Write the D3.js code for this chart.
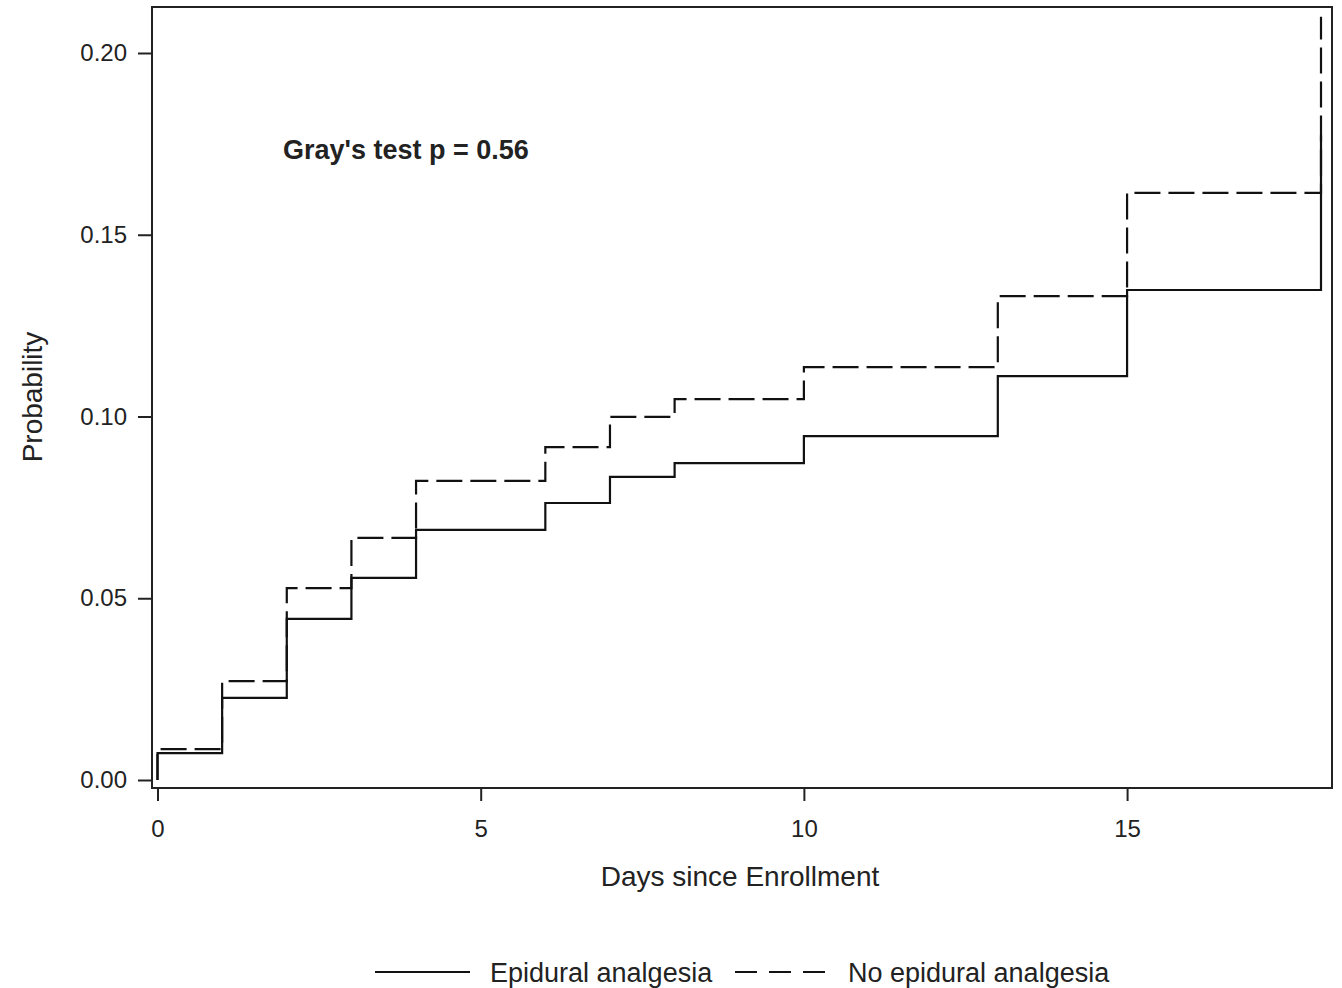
<!DOCTYPE html>
<html lang="en">
<head>
<meta charset="UTF-8">
<title>Cumulative incidence by epidural analgesia</title>
<script src="https://d3js.org/d3.v7.min.js"></script>
<style>
  body { margin: 0; background: #fff; }
  text { font-family: "Liberation Sans", Arial, sans-serif; fill: #222; }
  .step { fill: none; stroke: #111; stroke-width: 2.2px; }
</style>
</head>
<body>
<svg id="chart" width="1342" height="988"></svg>
<script>
    // step times (days) and cumulative probabilities
    const days = [0, 1, 2, 3, 4, 6, 7, 8, 10, 13, 15, 18];
    const epidural   = [0.0074, 0.0226, 0.0443, 0.0556, 0.0688, 0.0762, 0.0834, 0.0872, 0.0946, 0.1111, 0.1348, 0.1774];
    const noEpidural = [0.0085, 0.0272, 0.0528, 0.0666, 0.0823, 0.0916, 0.0999, 0.1048, 0.1136, 0.1331, 0.1615, 0.2100];
    const xTicks = [0, 5, 10, 15];
    const yTicks = [0, 0.05, 0.10, 0.15, 0.20];
    const seriesNames = ["Epidural analgesia", "No epidural analgesia"];

    const svg = d3.select("#chart");
    const frame = {left: 152, right: 1332, top: 7, bottom: 788};

    const x = d3.scaleLinear().domain([0, 18]).range([157.5, 1321]);
    const y = d3.scaleLinear().domain([0, 0.2]).range([780, 53]);

    // frame
    svg.append("rect")
        .attr("x", frame.left).attr("y", frame.top)
        .attr("width", frame.right - frame.left)
        .attr("height", frame.bottom - frame.top)
        .attr("fill", "none").attr("stroke", "#222").attr("stroke-width", 2);

    // axes
    const yAxis = svg.append("g")
        .attr("transform", `translate(${frame.left},0)`)
        .call(d3.axisLeft(y).tickValues(yTicks).tickFormat(d3.format(".2f"))
            .tickSize(14).tickPadding(11));
    const xAxis = svg.append("g")
        .attr("transform", `translate(0,${frame.bottom})`)
        .call(d3.axisBottom(x).tickValues(xTicks).tickSize(13).tickPadding(19));
    [xAxis, yAxis].forEach(a => {
        a.select(".domain").remove();
        a.selectAll(".tick line").attr("stroke", "#222").attr("stroke-width", 2);
        a.selectAll(".tick text").style("font-size", "24px").attr("fill", "#222");
    });

    // axis titles
    svg.append("text")
        .attr("x", 740).attr("y", 886)
        .attr("text-anchor", "middle")
        .style("font-size", "28px")
        .text("Days since Enrollment");
    svg.append("text")
        .attr("transform", "translate(42,397) rotate(-90)")
        .attr("text-anchor", "middle")
        .style("font-size", "28px")
        .text("Probability");

    // step curves
    const line = d3.line()
        .x(d => x(d[0]))
        .y(d => y(d[1]))
        .curve(d3.curveStepAfter);
    const toPoints = vals => [[0, 0]].concat(days.map((d, i) => [d, vals[i]]));

    svg.append("path")
        .datum(toPoints(noEpidural))
        .attr("class", "step")
        .attr("stroke-dasharray", "26 8")
        .attr("d", line);
    svg.append("path")
        .datum(toPoints(epidural))
        .attr("class", "step")
        .attr("d", line);

    // annotation
    svg.append("text")
        .attr("x", 283).attr("y", 159)
        .style("font-size", "27px")
        .style("font-weight", "bold")
        .text("Gray's test p = 0.56");

    // legend
    const legend = svg.append("g").attr("transform", "translate(0,972)");
    const items = [
        {name: seriesNames[0], x0: 375, x1: 470, dash: null, tx: 490},
        {name: seriesNames[1], x0: 735, x1: 825, dash: "22 12", tx: 848}
    ];
    items.forEach(it => {
        legend.append("line")
            .attr("x1", it.x0).attr("x2", it.x1)
            .attr("y1", 0).attr("y2", 0)
            .attr("stroke", "#111").attr("stroke-width", 2)
            .attr("stroke-dasharray", it.dash);
        legend.append("text")
            .attr("x", it.tx).attr("y", 10)
            .style("font-size", "27px")
            .text(it.name);
    });
</script>
</body>
</html>
